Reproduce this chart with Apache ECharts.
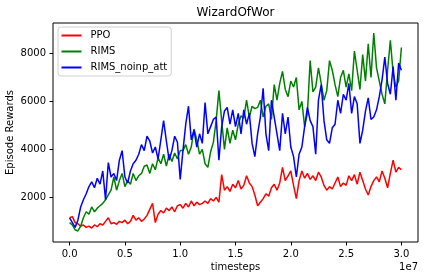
<!DOCTYPE html>
<html>
<head>
<meta charset="utf-8">
<script src="https://cdn.jsdelivr.net/npm/echarts@6/dist/echarts.min.js"></script>
<style>html,body{margin:0;padding:0;background:#fff}#c{width:424px;height:280px}</style>
</head>
<body>
<div id="c"></div>
<script>
// x values in units of 1e7 timesteps
const timesteps = [
0,0.025,0.05,0.075,0.1,0.125,0.15,0.175,
0.2,0.225,0.25,0.275,0.3,0.325,0.35,0.375,
0.4,0.425,0.45,0.475,0.5,0.525,0.55,0.575,
0.6,0.625,0.65,0.675,0.7,0.725,0.75,0.775,
0.8,0.825,0.85,0.875,0.9,0.925,0.95,0.975,
1.0,1.025,1.05,1.075,1.1,1.125,1.15,1.175,
1.2,1.225,1.25,1.275,1.3,1.325,1.35,1.375,
1.4,1.425,1.45,1.475,1.5,1.525,1.55,1.575,
1.6,1.625,1.65,1.675,1.7,1.725,1.75,1.775,
1.8,1.825,1.85,1.875,1.9,1.925,1.95,1.975,
2.0,2.025,2.05,2.075,2.1,2.125,2.15,2.175,
2.2,2.225,2.25,2.275,2.3,2.325,2.35,2.375,
2.4,2.425,2.45,2.475,2.5,2.525,2.55,2.575,
2.6,2.625,2.65,2.675,2.7,2.725,2.75,2.775,
2.8,2.825,2.85,2.875,2.9,2.925,2.95,2.975,
3.0];
const ppo = [
1150,1200,950,900,800,850,750,800,
720,850,780,900,850,1000,1150,900,
950,880,1000,950,1050,900,1000,1250,
1050,1150,1000,1100,1250,1500,1750,950,
1300,1450,1350,1550,1450,1600,1400,1650,
1700,1550,1750,1600,1850,1650,1800,1700,
1750,1850,1750,1950,1850,2000,1800,2950,
2300,2450,2250,2550,2400,2700,2350,2500,
2900,2600,2450,2100,1650,1800,1950,2150,
2050,2400,2550,2300,2600,3250,2700,2900,
3100,2500,1950,2700,3100,2800,3000,2750,
2900,2700,3050,2850,2500,2300,2450,2350,
2600,2850,2450,2600,2500,2900,2700,2950,
2550,3050,2700,2350,2100,2450,2700,2850,
2650,3100,2800,2400,3000,3550,3050,3250,
3150];
const rims = [
950,850,650,600,800,1150,1400,1300,
1600,1400,1550,1650,1750,1900,2100,2300,
2850,2300,2700,3000,2450,2700,2550,3000,
2700,2900,3000,3300,3350,3000,3400,3150,
3650,3400,3800,3300,3800,3500,3850,3600,
3950,3950,4200,3800,4100,4850,4400,3800,
4000,3400,3250,3900,4300,5200,6450,5200,
4000,4900,4250,4800,4400,5050,5400,5300,
6050,5350,5800,5700,5750,6050,5350,5800,
5900,5250,6700,6050,6750,7250,6500,6200,
6850,6600,7000,5650,6000,4950,5500,7700,
6400,6600,7400,6750,6050,6450,7700,7300,
6700,6200,7000,7300,6600,7150,6450,8100,
7300,6500,7950,6850,8400,7000,8850,7400,
6850,6300,5900,7300,8550,7200,6600,6850,
8250];
const rimsNoinpAtt = [
1150,950,750,1050,1600,1900,2150,2450,
2650,2400,2800,2550,3100,1900,3450,2850,
3000,2700,3550,3950,2850,2600,3100,3400,
3550,3800,4200,3950,4550,4350,3850,4100,
3600,4400,5200,4350,3550,3950,4550,4300,
2750,3950,5050,5800,4400,4800,4100,4650,
4250,5950,4650,4950,5250,5350,3550,4950,
5600,5750,5050,5650,4950,5500,4650,5650,
5050,5500,4250,3700,4650,5350,6550,4650,
3950,6050,5350,4650,3950,5500,4650,5350,
4100,3700,2850,3800,4100,4950,5750,5200,
4950,3800,6050,6700,5200,4400,4250,4900,
5050,6050,5500,6300,6050,6750,5500,6200,
5900,4250,4800,5600,6150,5250,5350,5650,
6200,6900,7850,6750,6300,7450,6050,7600,
7300];
const xTicks = [0, 0.5, 1.0, 1.5, 2.0, 2.5, 3.0];
const yTicks = [2000, 4000, 6000, 8000];
const seriesNames = ['PPO', 'RIMS', 'RIMS_noinp_att'];
const seriesColors = ['#ff0000', '#008000', '#0000ff'];

const FONT = 'DejaVu Sans';
const chart = echarts.init(document.getElementById('c'), null, {renderer: 'canvas'});
const pair = arr => timesteps.map((t, i) => [t, arr[i]]);
const allData = [ppo, rims, rimsNoinpAtt];

chart.setOption({
  animation: false,
  backgroundColor: '#fff',
  grid: {left: 53, right: 6, top: 23, bottom: 38, show: true, borderColor: '#000', borderWidth: 1, backgroundColor: 'transparent'},
  xAxis: {
    type: 'value', min: -0.15, max: 3.15,
    axisLine: {show: false, onZero: false},
    splitLine: {show: false},
    axisTick: {show: true, inside: false, length: 3.5, lineStyle: {color: '#000', width: 1}, customValues: xTicks},
    axisLabel: {show: true, margin: 7, color: '#000', fontFamily: FONT, fontSize: 10, customValues: xTicks, formatter: v => Number(v).toFixed(1)}
  },
  yAxis: {
    type: 'value', min: 140, max: 9270,
    axisLine: {show: false, onZero: false},
    splitLine: {show: false},
    axisTick: {show: true, inside: false, length: 3.5, lineStyle: {color: '#000', width: 1}, customValues: yTicks},
    axisLabel: {show: true, margin: 7, color: '#000', fontFamily: FONT, fontSize: 10, customValues: yTicks, formatter: v => String(Math.round(v))}
  },
  legend: {
    orient: 'vertical', left: 58, top: 27,
    padding: [2.5, 4, 2.5, 3.5],
    itemWidth: 20, itemHeight: 2, itemGap: 4,
    icon: 'rect',
    backgroundColor: 'rgba(255,255,255,0.8)',
    borderColor: '#d0d0d0', borderWidth: 1, borderRadius: 3,
    textStyle: {fontFamily: FONT, fontSize: 10, color: '#000', lineHeight: 12, padding: [0, 0, 0, 4]},
    data: seriesNames
  },
  series: seriesNames.map((n, k) => ({
    name: n, type: 'line', data: pair(allData[k]),
    showSymbol: false, symbol: 'none',
    lineStyle: {color: seriesColors[k], width: 1.5},
    itemStyle: {color: seriesColors[k]},
    z: 2 + k
  })),
  graphic: [
    {type: 'text', x: 235.5, y: 12.5, style: {text: 'WizardOfWor', font: '12px "DejaVu Sans"', fill: '#000', align: 'center', verticalAlign: 'middle'}},
    {type: 'text', x: 235.5, y: 267.5, style: {text: 'timesteps', font: '10px "DejaVu Sans"', fill: '#000', align: 'center', verticalAlign: 'middle'}},
    {type: 'text', x: 418, y: 267, style: {text: '1e7', font: '10px "DejaVu Sans"', fill: '#000', align: 'right', verticalAlign: 'middle'}},
    {type: 'text', x: 10.5, y: 132.5, rotation: Math.PI / 2, style: {text: 'Episode Rewards', font: '10px "DejaVu Sans"', fill: '#000', align: 'center', verticalAlign: 'middle'}}
  ]
});
</script>
</body>
</html>
